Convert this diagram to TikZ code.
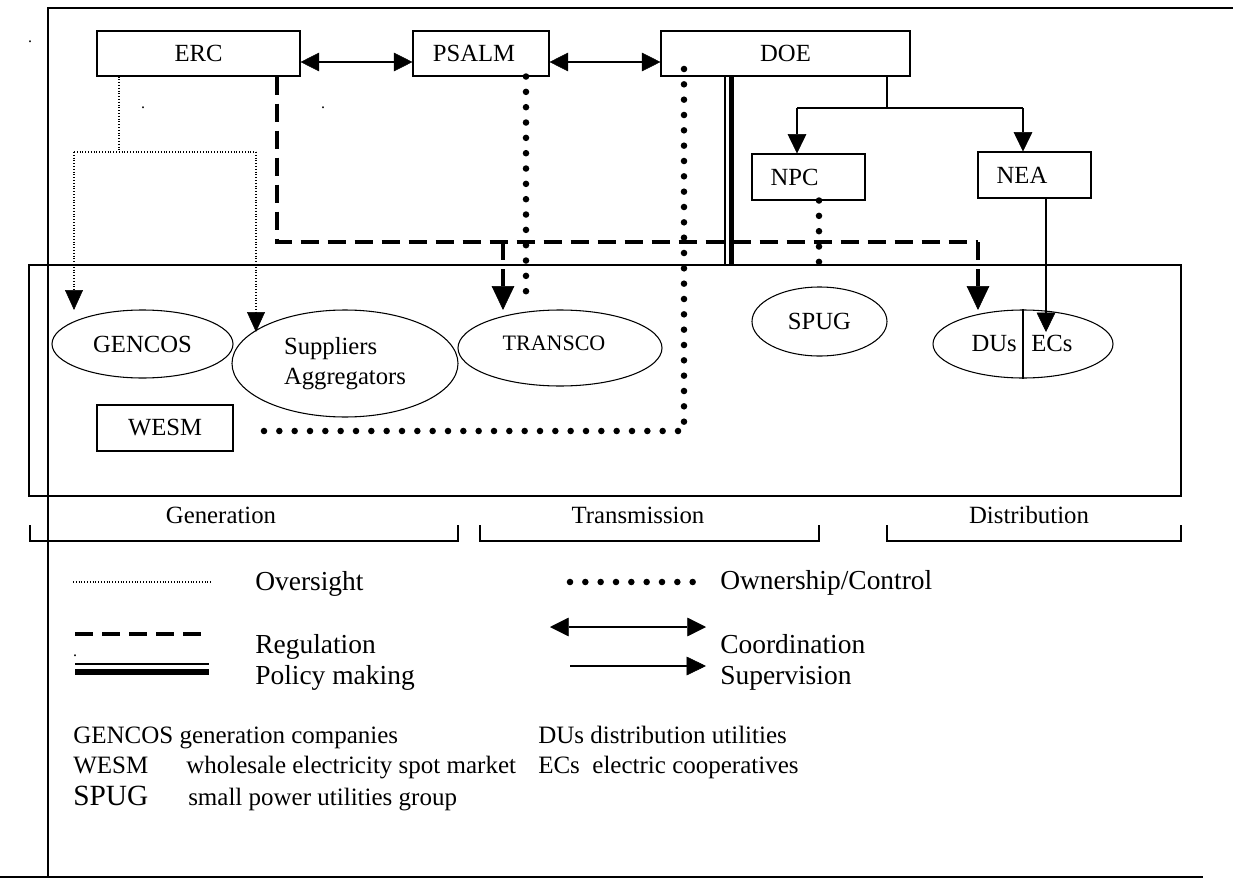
\documentclass[tikz,border=0pt]{standalone}
\usepackage{fontspec}
\setmainfont{Liberation Serif}
\usetikzlibrary{arrows.meta,shapes.geometric}
\begin{document}
\begin{tikzpicture}[x=0.75pt,y=-0.75pt,
  box/.style={draw, line width=0.8pt, rectangle, inner sep=0pt, font=\fontsize{18.5}{22}\selectfont},
  ell/.style={draw, line width=0.8pt, ellipse, inner sep=0pt, font=\fontsize{18.5}{22.5}\selectfont},
  thinline/.style={line width=0.8pt},
  frameline/.style={line width=1.3pt},
  bracket/.style={line width=0.9pt},
  coordarrow/.style={line width=0.9pt, {Triangle[length=14pt,width=14pt,line width=0.4pt]}-{Triangle[length=14pt,width=14pt,line width=0.4pt]}},
  superarrow/.style={line width=0.9pt, -{Triangle[length=14.5pt,width=14pt,line width=0.4pt]}},
  overline/.style={line width=0.8pt, dash pattern=on 0.8pt off 1.3pt},
  overarrow/.style={overline, -{Triangle[length=15pt,width=13.5pt,line width=0.4pt]}},
  regline/.style={line width=3pt, dash pattern=on 13.5pt off 6.75pt},
  regarrow/.style={regline, -{Triangle[length=18pt,width=17pt,line width=0.4pt]}},
  ownline/.style={line width=4.9pt, line cap=round, dash pattern=on 0pt off 11.5pt},
  polthin/.style={line width=1pt},
  polthick/.style={line width=4.2pt},
  legtext/.style={anchor=base west, inner sep=0pt, font=\fontsize{20.6}{24}\selectfont},
  abbr/.style={anchor=base west, inner sep=0pt, font=\fontsize{18.75}{22}\selectfont},
  sector/.style={anchor=base, inner sep=0pt, font=\fontsize{18.6}{22}\selectfont},
  stray/.style={anchor=base, inner sep=0pt, font=\fontsize{12}{12}\selectfont}
]
\useasboundingbox (0,0) rectangle (1233,878);

% outer frame
\draw[frameline] (1233,8) -- (48,8) -- (48,877);
\draw[frameline] (0,877) -- (1203,877);

% stray dots
\node[stray] (d1) at (30,42) {.};
\node[stray] (d2) at (143,108) {.};
\node[stray] (d3) at (323,108) {.};
\node[stray] (d4) at (75,656) {.};

% market box
\node[draw, line width=0.9pt, minimum width=864pt, minimum height=173.25pt, inner sep=0pt] (market) at (605,380.5) {};

% top boxes
\node[box, minimum width=152.25pt, minimum height=33.75pt] (erc) at (198.5,53.5) {ERC};
\node[box, minimum width=102pt, minimum height=33.75pt] (psalm) at (481,53.5) {PSALM\hspace*{10.5pt}};
\node[box, minimum width=186.75pt, minimum height=33.75pt] (doe) at (785.5,53.5) {DOE};
\node[box, minimum width=84.75pt, minimum height=34.5pt] (npc) at (808.5,177) {NPC\hspace*{21pt}};
\node[box, minimum width=84.75pt, minimum height=34.5pt] (nea) at (1034.5,175) {NEA\hspace*{18.75pt}};
\node[box, minimum width=102pt, minimum height=34.5pt] (wesm) at (165,428) {WESM};

% ellipses
\node[ell, minimum width=135.75pt, minimum height=51pt] (gencos) at (142.5,344) {GENCOS};
\node[ell, minimum width=169.5pt, minimum height=80.25pt, align=left] (suppl) at (345,363.5) {Suppliers\\Aggregators};
\node[ell, minimum width=153pt, minimum height=57pt, font=\fontsize{16.5}{20}\selectfont] (transco) at (560,348) {\raisebox{7.5pt}{TRANSCO}\hspace*{9pt}};
\node[ell, minimum width=101.25pt, minimum height=51.75pt] (spug) at (819.5,321.5) {SPUG};
\node[ell, minimum width=135pt, minimum height=51pt] (duec) at (1023,344) {};
\draw[thinline] (duec.north) -- (duec.south);
\node[anchor=base east, inner sep=0pt, font=\fontsize{18.5}{22}\selectfont] (dus) at (1017,351) {DUs};
\node[anchor=base west, inner sep=0pt, font=\fontsize{18.5}{22}\selectfont] (ecs) at (1031,351) {ECs};

% coordinates
\coordinate (cy) at (0,62);
\coordinate (ovA) at (119,152);
\coordinate (ovL) at (74,152);
\coordinate (ovR) at (256,152);
\coordinate (ovLt) at (74,310);
\coordinate (ovRt) at (256,332);
\coordinate (rg1) at (277,242);
\coordinate (rg2) at (978,242);
\coordinate (rgT) at (503,242);
\coordinate (rgTt) at (503,310);
\coordinate (rgEt) at (978,310);
\coordinate (ow1) at (526,0);
\coordinate (ow1e) at (526,304);
\coordinate (ow2s) at (684,69);
\coordinate (ow2c) at (684,431);
\coordinate (ow2e) at (255,431);
\coordinate (ow3) at (819,0);
\coordinate (ow3e) at (819,274);
\coordinate (sv0) at (887,108);
\coordinate (svL) at (797,108);
\coordinate (svR) at (1023,108);
\coordinate (ecx) at (1046,0);
\coordinate (ecT) at (1046,332);
\coordinate (pm1) at (725,0);
\coordinate (pm2) at (731.3,0);

% coordination
\draw[coordarrow] (erc.east |- cy) -- (psalm.west |- cy);
\draw[coordarrow] (psalm.east |- cy) -- (doe.west |- cy);

% oversight
\draw[overline] (erc.south -| ovA) -- (ovA);
\draw[overline] (ovL) -- (ovR);
\draw[overarrow] (ovL) -- (ovLt);
\draw[overarrow] (ovR) -- (ovRt);

% regulation
\draw[regline] (erc.south -| rg1) -- (rg1) -- (rg2);
\draw[regarrow] (rg2) -- (rgEt);
\draw[regarrow] (rgT) -- (rgTt);

% ownership / control
\draw[ownline] (psalm.south -| ow1) -- (ow1e);
\draw[ownline] (ow2s) -- (ow2c) -- (ow2e);
\draw[ownline] (npc.south -| ow3) -- (ow3e);

% policy making
\draw[polthin] (doe.south -| pm1) -- (market.north -| pm1);
\draw[polthick] (doe.south -| pm2) -- (market.north -| pm2);

% supervision
\draw[thinline] (doe.south -| sv0) -- (sv0);
\draw[thinline] (svL) -- (svR);
\draw[superarrow] (svL) -- (npc.north -| svL);
\draw[superarrow] (svR) -- (nea.north -| svR);
\draw[superarrow] (nea.south -| ecx) -- (ecT);

% sector brackets
\draw[bracket] (30,525) -- (30,541) -- (458,541) -- (458,525);
\draw[bracket] (480,525) -- (480,541) -- (819,541) -- (819,525);
\draw[bracket] (887,525) -- (887,541) -- (1181,541) -- (1181,525);
\node[sector] (gen) at (221,523) {Generation};
\node[sector] (tra) at (638,523) {Transmission};
\node[sector] (dis) at (1029,523) {Distribution};

% legend
\draw[overline] (73,582) -- (211,582);
\node[legtext] (lo) at (255,590) {Oversight};
\draw[regline] (75,634) -- (209,634);
\node[legtext] (lr) at (255,653) {Regulation};
\draw[polthin] (75,664) -- (209,664);
\draw[polthick] (75,672) -- (209,672);
\node[legtext] (lp) at (255,684) {Policy making};
\draw[ownline] (570,582) -- (695,582);
\node[legtext] (lw) at (720,589) {Ownership/Control};
\draw[coordarrow] (550,627) -- (706,627);
\node[legtext] (lc) at (720,653) {Coordination};
\draw[superarrow] (570,666) -- (706,666);
\node[legtext] (ls) at (720,684) {Supervision};

% abbreviations
\node[abbr] (a1) at (73,743) {GENCOS generation companies};
\node[abbr] (a2) at (73,773) {WESM};
\node[abbr] (a2b) at (186,773) {wholesale electricity spot market};
\node[abbr, font=\fontsize{22}{24}\selectfont] (a3) at (73,805) {SPUG};
\node[abbr] (a3b) at (188,805) {small power utilities group};
\node[abbr] (a4) at (538,743) {DUs distribution utilities};
\node[abbr] (a5) at (538,773) {ECs\ \ electric cooperatives};
\end{tikzpicture}
\end{document}
